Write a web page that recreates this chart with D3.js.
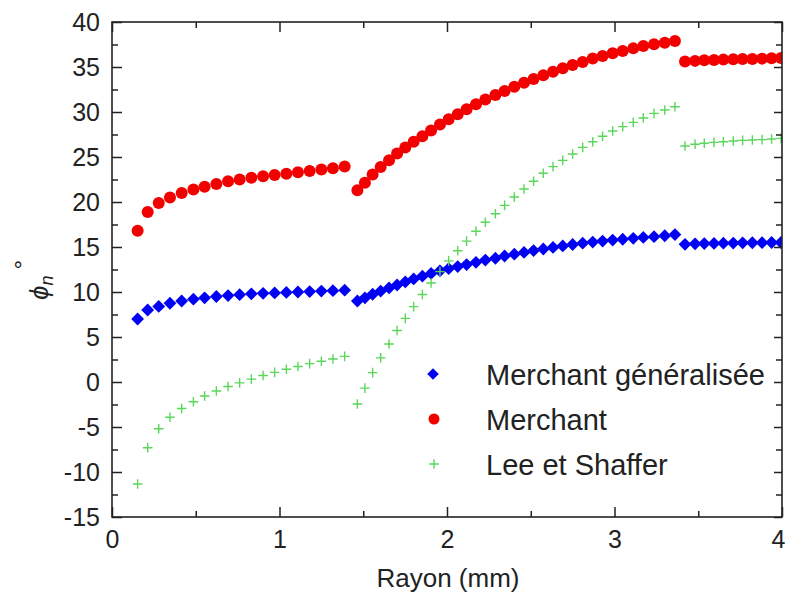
<!DOCTYPE html>
<html>
<head>
<meta charset="utf-8">
<script src="https://cdn.jsdelivr.net/npm/d3@7"></script>
<style>
  html, body { margin: 0; padding: 0; background: #fff; }
  svg { display: block; font-family: "Liberation Sans", Arial, sans-serif; }
</style>
</head>
<body>
<svg id="chart" width="786" height="598"></svg>
<script>
// ---------- data ----------
const rayon = [
  0.153,0.213,0.279,0.346,0.416,0.486,0.553,0.623,0.693,0.762,0.832,0.902,0.971,1.041,1.110,1.180,1.250,1.319,1.389,
  1.465,1.510,1.556,1.604,1.654,1.702,1.751,1.801,1.853,1.905,1.958,2.010,2.064,2.117,2.173,2.229,2.289,2.344,2.402,2.460,
  2.517,2.575,2.633,2.691,2.750,2.810,2.870,2.929,2.989,3.049,3.112,3.172,3.236,3.300,3.361,
  3.421,3.481,3.536,3.594,3.650,3.709,3.765,3.823,3.881,3.938,3.994
];
const merchantGeneralisee = [
  7.0,8.0,8.4,8.75,9.0,9.2,9.35,9.5,9.6,9.7,9.8,9.85,9.9,9.95,10.0,10.05,10.1,10.15,10.2,
  9.0,9.35,9.75,10.1,10.45,10.78,11.12,11.45,11.76,12.06,12.35,12.6,12.82,13.05,13.3,13.55,13.75,14.0,14.2,14.4,
  14.6,14.78,14.95,15.12,15.28,15.42,15.55,15.66,15.77,15.86,15.96,16.06,16.15,16.25,16.38,
  15.3,15.35,15.38,15.4,15.42,15.44,15.46,15.47,15.48,15.5,15.5
];
const merchant = [
  16.8,18.9,19.9,20.5,21.0,21.4,21.7,22.0,22.3,22.5,22.7,22.85,23.0,23.15,23.3,23.45,23.6,23.75,23.95,
  21.3,22.15,23.05,23.9,24.65,25.4,26.05,26.7,27.3,27.95,28.6,29.2,29.74,30.3,30.85,31.4,31.88,32.33,32.8,33.25,
  33.67,34.07,34.48,34.85,35.22,35.55,35.95,36.22,36.52,36.78,37.07,37.33,37.52,37.7,37.9,
  35.6,35.68,35.74,35.78,35.82,35.85,35.88,35.9,35.93,35.96,36.0
];
const leeShaffer = [
  -11.33,-7.3,-5.2,-3.92,-2.95,-2.2,-1.56,-1.0,-0.5,-0.1,0.32,0.72,1.07,1.42,1.73,2.04,2.3,2.55,2.85,
  -2.45,-0.68,1.04,2.68,4.22,5.72,7.07,8.37,9.72,11.0,12.26,13.46,14.58,15.65,16.75,17.75,18.7,19.63,20.55,21.44,
  22.3,23.19,23.93,24.63,25.33,26.07,26.7,27.3,27.89,28.37,28.85,29.33,29.85,30.22,30.59,
  26.22,26.41,26.52,26.63,26.7,26.78,26.85,26.89,26.93,27.0,27.07
];
const seriesNames = ["Merchant généralisée", "Merchant", "Lee et Shaffer"];
const xTicks = [0, 1, 2, 3, 4];
const xMinorTicks = [0.5, 1.5, 2.5, 3.5];
const yTicks = [-15, -10, -5, 0, 5, 10, 15, 20, 25, 30, 35, 40];
const yMinorTicks = [-12.5, -7.5, -2.5, 2.5, 7.5, 12.5, 17.5, 22.5, 27.5, 32.5, 37.5];
const xLabel = "Rayon (mm)";

// ---------- layout ----------
const svg = d3.select("#chart");
const L = 112, R = 782, T = 22, B = 517;
const x = d3.scaleLinear().domain([0, 4]).range([L, R]);
const y = d3.scaleLinear().domain([-15, 40]).range([B, T]);
const ink = "#222";
const colors = ["#0000f5", "#f20000", "#5ad65a"];
const fmt = d => String(d);

svg.append("defs").append("clipPath").attr("id", "plotclip")
  .append("rect").attr("x", L).attr("y", T).attr("width", R - L).attr("height", B - T);

// markers
const diamondPath = d3.symbol(d3.symbolSquare, 82)();
function crossPath(h) { return `M${-h},0H${h}M0,${-h}V${h}`; }

const plot = svg.append("g").attr("clip-path", "url(#plotclip)");
const pts = rayon.map((r, i) => ({ r, a: merchantGeneralisee[i], b: merchant[i], c: leeShaffer[i] }));

plot.append("g").selectAll("path").data(pts).join("path")
  .attr("d", diamondPath)
  .attr("transform", d => `translate(${x(d.r)},${y(d.a)}) rotate(45)`)
  .attr("fill", colors[0]);

plot.append("g").selectAll("circle").data(pts).join("circle")
  .attr("cx", d => x(d.r)).attr("cy", d => y(d.b)).attr("r", 6)
  .attr("fill", colors[1]);

plot.append("g").selectAll("path").data(pts).join("path")
  .attr("d", crossPath(4.8))
  .attr("transform", d => `translate(${x(d.r)},${y(d.c)})`)
  .attr("stroke", colors[2]).attr("stroke-width", 1.4).attr("fill", "none");

// ---------- axes ----------
function styleAxis(g) {
  g.select(".domain").remove();
  g.selectAll(".tick line").attr("stroke", ink).attr("stroke-width", 1.5);
  g.selectAll(".tick text").attr("fill", ink).attr("font-size", 25)
    .attr("font-family", "'Liberation Sans', Arial, sans-serif");
}
const xAxisG = svg.append("g").attr("transform", `translate(0,${B})`)
  .call(d3.axisBottom(x).tickValues(xTicks).tickSize(-10).tickPadding(13).tickFormat(fmt))
  .call(styleAxis);
// keep the last label inside the picture
xAxisG.selectAll(".tick text").filter(d => d === 4).attr("text-anchor", "end").attr("x", 3);
svg.append("g").attr("transform", `translate(0,${B})`)
  .call(d3.axisBottom(x).tickValues(xMinorTicks).tickSize(-6).tickFormat(""))
  .call(styleAxis);
svg.append("g").attr("transform", `translate(0,${T})`)
  .call(d3.axisTop(x).tickValues(xTicks).tickSize(-10).tickFormat(""))
  .call(styleAxis);
svg.append("g").attr("transform", `translate(0,${T})`)
  .call(d3.axisTop(x).tickValues(xMinorTicks).tickSize(-6).tickFormat(""))
  .call(styleAxis);
svg.append("g").attr("transform", `translate(${L},0)`)
  .call(d3.axisLeft(y).tickValues(yTicks).tickSize(-10).tickPadding(12).tickFormat(fmt))
  .call(styleAxis);
svg.append("g").attr("transform", `translate(${L},0)`)
  .call(d3.axisLeft(y).tickValues(yMinorTicks).tickSize(-6).tickFormat(""))
  .call(styleAxis);
svg.append("g").attr("transform", `translate(${R},0)`)
  .call(d3.axisRight(y).tickValues(yTicks).tickSize(-8).tickFormat(""))
  .call(styleAxis);
svg.append("g").attr("transform", `translate(${R},0)`)
  .call(d3.axisRight(y).tickValues(yMinorTicks).tickSize(-6).tickFormat(""))
  .call(styleAxis);

svg.append("rect").attr("x", L).attr("y", T).attr("width", R - L).attr("height", B - T)
  .attr("fill", "none").attr("stroke", ink).attr("stroke-width", 1.6);

// axis titles
svg.append("text").attr("x", (L + R) / 2 + 1).attr("y", 587).attr("text-anchor", "middle")
  .attr("font-size", 26).attr("fill", ink).text(xLabel);

const yt = svg.append("text").attr("transform", "translate(48,300) rotate(-90)")
  .attr("fill", ink).attr("font-size", 26);
yt.append("tspan").attr("font-style", "italic").text("ϕ");
yt.append("tspan").attr("font-style", "italic").attr("font-size", 18).attr("dy", 5).text("n");
yt.append("tspan").attr("font-size", 24).attr("dx", 6).attr("dy", -22).text("°");

// ---------- legend ----------
const legend = svg.append("g");
const ly = [374, 419, 464];
legend.append("path").attr("d", d3.symbol(d3.symbolSquare, 66)())
  .attr("transform", `translate(433,${ly[0]}) rotate(45)`).attr("fill", colors[0]);
legend.append("circle").attr("cx", 434).attr("cy", ly[1]).attr("r", 5.5).attr("fill", colors[1]);
legend.append("path").attr("d", crossPath(4.8)).attr("transform", `translate(434,${ly[2]})`)
  .attr("stroke", colors[2]).attr("stroke-width", 1.4).attr("fill", "none");
legend.selectAll("text").data(seriesNames).join("text")
  .attr("x", 486).attr("y", (d, i) => ly[i] + 11)
  .attr("font-size", 29).attr("fill", ink).text(d => d);
</script>
</body>
</html>
